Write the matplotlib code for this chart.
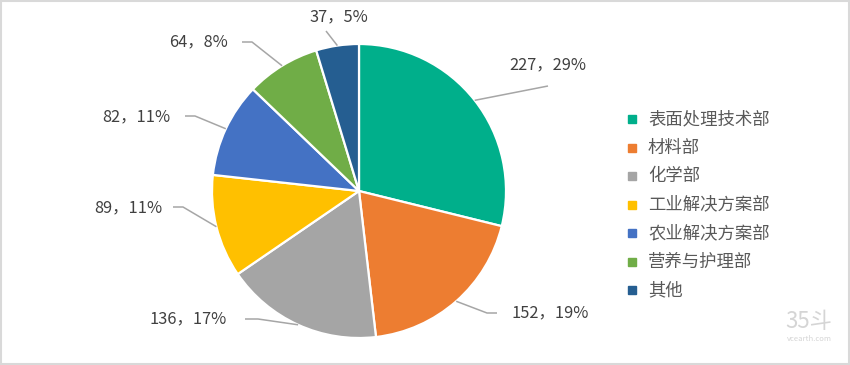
import numpy as np
import matplotlib.pyplot as plt
from matplotlib.patches import Rectangle

plt.rcParams['font.family'] = ['Noto Sans CJK SC', 'DejaVu Sans']

# data
categories = ['表面处理技术部', '材料部', '化学部', '工业解决方案部', '农业解决方案部', '营养与护理部', '其他']
values = [227, 152, 136, 89, 82, 64, 37]
pct_labels = [29, 19, 17, 11, 11, 8, 5]
colors = ['#00AF8B', '#ED7D31', '#A5A5A5', '#FFC000', '#4472C4', '#70AD47', '#255E91']

# layout (pixel coords, origin top-left)
W, H = 850, 365
cx, cy, R = 359, 191, 147
label_pos = [(548, 65), (550, 313), (188, 319), (128, 208), (136, 117), (199, 42), (339, 17)]
elbows = [[(548, 86)],
          [(487, 313), (497, 313)],
          [(258, 319), (245, 319)],
          [(183, 207), (173, 207)],
          [(195, 116), (185, 116)],
          [(252, 42), (242, 42)],
          [(326, 31)]]

fig = plt.figure(figsize=(W / 100, H / 100), dpi=100)
ax = fig.add_axes([0, 0, 1, 1])

ax.pie(values, colors=colors, startangle=90, counterclock=False,
       center=(cx, H - cy), radius=R,
       wedgeprops=dict(edgecolor='white', linewidth=1.6))
ax.set_xlim(0, W)
ax.set_ylim(0, H)
ax.axis('off')

total = sum(values)
cum = np.cumsum(values)
mids = (cum - np.array(values) / 2) / total
for i, m in enumerate(mids):
    ang = np.deg2rad(90 - 360 * m)
    ex, ey = cx + R * np.cos(ang), cy - R * np.sin(ang)
    pts = [(ex, ey)] + elbows[i]
    xs = [p[0] for p in pts]
    ys = [H - p[1] for p in pts]
    ax.plot(xs, ys, color='#A6A6A6', lw=1.1, solid_capstyle='butt')
    lx, ly = label_pos[i]
    ax.text(lx, H - ly, '{}，{}%'.format(values[i], pct_labels[i]),
            ha='center', va='center', fontsize=11.8, color='#404040')

# legend
for i, name in enumerate(categories):
    y = 119 + i * 28.5
    ax.add_patch(Rectangle((628, H - y - 4), 8, 8, color=colors[i]))
    ax.text(648, H - y, name, ha='left', va='center', fontsize=12.5, color='#595959')

# watermark
ax.text(809, H - 322, '35斗', ha='center', va='center', fontsize=16, color='#D5D5D5',
        fontstretch='condensed')
ax.text(809, H - 339, 'vcearth.com', ha='center', va='center', fontsize=5.5, color='#D5D5D5')

# outer border
ax.add_patch(Rectangle((1, 1), W - 2, H - 2, fill=False, edgecolor='#D9D9D9', lw=1.5))

fig.savefig('out.png', dpi=100)
